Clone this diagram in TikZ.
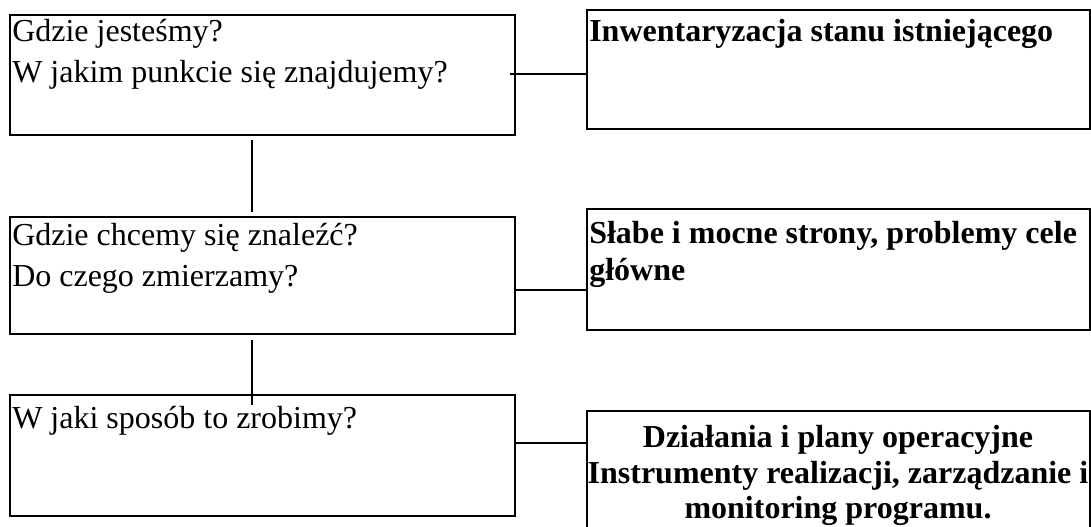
\documentclass[tikz,border=0pt]{standalone}
\usepackage{fontspec}
\setmainfont{Liberation Serif}
\begin{document}
\begin{tikzpicture}[x=0.75pt,y=-0.75pt,
  box/.style={draw=black,line width=1.3pt,inner sep=0pt,outer sep=0pt,anchor=north west},
  conn/.style={draw=black,line width=1.1pt},
  qtext/.style={inner sep=0pt,anchor=base west,font=\fontsize{24pt}{28pt}\selectfont},
  btext/.style={inner sep=0pt,font=\fontsize{24pt}{28pt}\selectfont\bfseries}]
\useasboundingbox (0,0) rectangle (1091,526);
% left boxes
\node[box,minimum width=378.75pt,minimum height=90pt] (A) at (10,15) {};
\node[box,minimum width=378.75pt,minimum height=87.75pt] (C) at (10,217) {};
\node[box,minimum width=378.75pt,minimum height=90.75pt] (E) at (10,395) {};
% right boxes
\node[box,minimum width=377.25pt,minimum height=89.25pt] (B) at (587,10) {};
\node[box,minimum width=377.25pt,minimum height=90.75pt] (D) at (587,209) {};
\node[box,minimum width=377.25pt,minimum height=112.5pt] (F) at (587,411) {};
% texts
\node[qtext] (A1) at (12,41) {Gdzie jesteśmy?};
\node[qtext] (A2) at (12,82) {W jakim punkcie się znajdujemy?};
\node[qtext] (C1) at (12,245.5) {Gdzie chcemy się znaleźć?};
\node[qtext] (C2) at (12,286.5) {Do czego zmierzamy?};
\node[qtext] (E1) at (12,428) {W jaki sposób to zrobimy?};
\node[btext,anchor=base west] (B1) at (589,41) {Inwentaryzacja stanu istniejącego};
\node[btext,anchor=base west] (D1) at (589,243) {Słabe i mocne strony, problemy cele};
\node[btext,anchor=base west] (D2) at (589,280) {główne};
\node[btext,anchor=base] (F1) at (838,447) {Działania i plany operacyjne};
\node[btext,anchor=base] (F2) at (838,483) {Instrumenty realizacji, zarządzanie i};
\node[btext,anchor=base] (F3) at (838,518) {monitoring programu.};
% connectors
\draw[conn] ([xshift=-3.75pt,yshift=0.75pt]A.east) -- ([yshift=0.75pt]A.east -| B.west);
\draw[conn] ([yshift=-11pt]C.east) -- ([yshift=-11pt]C.east -| D.west);
\draw[conn] ([yshift=9.4pt]E.east) -- ([yshift=9.4pt]E.east -| F.west);
\draw[conn] ([shift={(-7.9pt,-3.75pt)}]A.south) -- ([shift={(-7.9pt,3.75pt)}]C.north);
\draw[conn] ([shift={(-7.9pt,-4.5pt)}]C.south) -- ([shift={(-7.9pt,-7.5pt)}]E.north);
\end{tikzpicture}
\end{document}
